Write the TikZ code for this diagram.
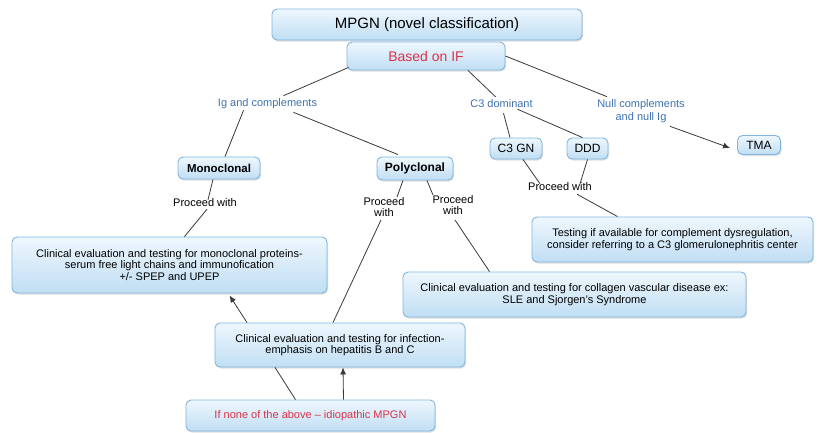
\documentclass[tikz,border=0pt]{standalone}
\usepackage{fontspec}
\setmainfont{Liberation Sans}
\usetikzlibrary{shadows,arrows.meta}
\definecolor{boxtop}{HTML}{EEF7FD}
\definecolor{boxbot}{HTML}{C0DEF4}
\definecolor{boxedge}{HTML}{80B6E0}
\definecolor{lblue}{HTML}{3F72B0}
\definecolor{lred}{HTML}{D9344A}
\definecolor{linec}{HTML}{3A3A3A}
\begin{document}
\begin{tikzpicture}[x=1pt,y=-1pt,
  box/.style={draw=boxedge, line width=0.9pt, rounded corners=5pt, top color=boxtop, bottom color=boxbot,
    drop shadow={shadow xshift=1pt, shadow yshift=-1.5pt, opacity=0.25}, inner sep=0pt, align=center,
    font=\fontsize{11}{11.5}\selectfont},
  lbl/.style={text=lblue, align=center, inner sep=1pt, font=\fontsize{11}{13}\selectfont},
  plain/.style={align=center, inner sep=1pt, font=\fontsize{11}{11.5}\selectfont},
  conn/.style={draw=linec, line width=0.8pt},
  arr/.style={conn, -{Latex[length=7pt,width=6pt]}}]
\useasboundingbox (0,0) rectangle (820,432);
\fill[white] (0,0) rectangle (820,432);

% boxes
\node[box, minimum width=310pt, minimum height=31pt, font=\fontsize{15}{18}\selectfont] (mpgn) at (427,24.5) {MPGN (novel classification)};
\node[box, minimum width=158pt, minimum height=28pt, text=lred, font=\fontsize{14}{16}\selectfont] (basedif) at (426,56) {Based on IF};
\node[box, minimum width=82pt, minimum height=22pt, font=\bfseries\fontsize{11.5}{13}\selectfont] (mono) at (219,168) {Monoclonal};
\node[box, minimum width=76pt, minimum height=23pt, font=\bfseries\fontsize{12}{13}\selectfont] (poly) at (415,168.5) {Polyclonal};
\node[box, minimum width=52pt, minimum height=21pt, font=\fontsize{12}{13}\selectfont] (c3gn) at (516,148.5) {C3 GN};
\node[box, minimum width=41pt, minimum height=21pt, font=\fontsize{12}{13}\selectfont] (ddd) at (587.5,148.5) {DDD};
\node[box, minimum width=43pt, minimum height=19pt, font=\fontsize{12}{13}\selectfont] (tma) at (759,145) {TMA};
\node[box, minimum width=281pt, minimum height=45pt] (testing) at (672.5,239.5) {Testing if available for complement dysregulation,\\consider referring to a C3 glomerulonephritis center};
\node[box, minimum width=343pt, minimum height=45pt] (collagen) at (574.5,294.5) {Clinical evaluation and testing for collagen vascular disease ex:\\SLE and Sjorgen's Syndrome};
\node[box, minimum width=315pt, minimum height=56pt] (monoclin) at (169.5,265) {Clinical evaluation and testing for monoclonal proteins-\\serum free light chains and immunofication\\+/- SPEP and UPEP};
\node[box, minimum width=250pt, minimum height=44pt] (infection) at (340,345) {Clinical evaluation and testing for infection-\\emphasis on hepatitis B and C};
\node[box, minimum width=249pt, minimum height=31pt, text=lred] (ifnone) at (310.5,415.5) {If none of the above -- idiopathic MPGN};

% labels
\node[lbl] (ig) at (267.5,104) {Ig and complements};
\node[lbl] (c3dom) at (501.5,104) {C3 dominant};
\node[lbl] (null) at (641,111.5) {Null complements\\and null Ig};
\node[plain] (pw1) at (560,187) {Proceed with};
\node[plain] (pw2) at (205,203) {Proceed with};
\node[plain] (pw3) at (384,207) {Proceed\\with};
\node[plain] (pw4) at (453,205) {Proceed\\with};

% connectors
\draw[conn] ([xshift=2pt,yshift=3pt]basedif.south west) -- ([xshift=16pt,yshift=2pt]ig.north);
\draw[conn] ([xshift=42pt]basedif.south) -- ([xshift=-6pt,yshift=2pt]c3dom.north);
\draw[conn] (basedif.east) -- ([xshift=-34pt,yshift=2pt]null.north);
\draw[conn] ([xshift=-24pt]ig.south) -- ([xshift=6pt]mono.north);
\draw[conn] ([xshift=26pt,yshift=-2pt]ig.south) -- ([xshift=-17pt,yshift=2pt]poly.north);
\draw[conn] ([xshift=2pt,yshift=-4pt]c3dom.south) -- ([xshift=-6pt]c3gn.north);
\draw[conn] ([xshift=16pt]c3dom.south) -- ([xshift=-5pt]ddd.north);
\draw[arr] ([xshift=29pt,yshift=-2pt]null.south) -- ([xshift=-7pt,yshift=-3pt]tma.west);
\draw[conn] ([xshift=7pt]c3gn.south) -- ([xshift=-20pt,yshift=-2pt]pw1.north);
\draw[conn] (ddd.south) -- ([xshift=20pt,yshift=-2pt]pw1.north);
\draw[conn] ([xshift=17pt,yshift=-2pt]pw1.south) -- ([xshift=-55pt]testing.north);
\draw[conn] ([xshift=-6pt]mono.south) -- ([xshift=3pt,yshift=-2pt]pw2.north);
\draw[conn] ([xshift=2pt,yshift=-1pt]pw2.south) -- ([xshift=15pt]monoclin.north);
\draw[conn] ([xshift=-12pt]poly.south) -- ([xshift=13pt,yshift=-1pt]pw3.north);
\draw[conn] ([xshift=12pt]poly.south) -- ([xshift=-20pt,yshift=-1pt]pw4.north);
\draw[conn] ([xshift=-3pt,yshift=-2pt]pw3.south) -- ([xshift=-7pt]infection.north);
\draw[conn] ([xshift=2pt,yshift=-4pt]pw4.south) -- ([xshift=-85pt]collagen.north);
\draw[arr] ([xshift=-93pt]infection.north) -- ([xshift=60pt,yshift=-2pt]monoclin.south);
\draw[conn] ([xshift=-15pt]ifnone.north) -- ([xshift=-65pt]infection.south);
\draw[arr] ([xshift=33pt]ifnone.north) -- ([xshift=3pt]infection.south);
\end{tikzpicture}
\end{document}
